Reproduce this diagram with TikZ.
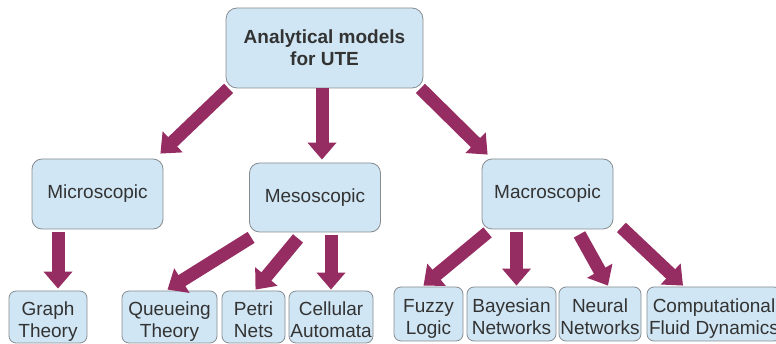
\documentclass[tikz,border=0pt]{standalone}
\usepackage{fontspec}
\setmainfont{Liberation Sans}
\usetikzlibrary{shapes}
\usetikzlibrary{arrows.meta}
\definecolor{boxfill}{RGB}{208,230,244}
\definecolor{boxline}{RGB}{135,140,145}
\definecolor{flowcol}{RGB}{150,45,98}
\definecolor{txtcol}{RGB}{51,51,51}
\tikzset{
	cat/.style = {align=center, inner sep=0pt, text centered, draw=boxline,
		fill=boxfill, text=txtcol, line width=0.8pt,
		font=\fontsize{19}{22}\selectfont},
	cat_root/.style = {cat, rounded corners=11pt, minimum width=197pt,
		minimum height=80pt, font=\fontsize{19}{22}\selectfont\bfseries},% racine
	cat_mid/.style = {cat, rounded corners=10pt, minimum width=131pt,
		minimum height=70pt},% niveau intermediaire
	cat_leaf/.style = {cat, rounded corners=7pt, minimum height=52pt,
		text height=45pt, text depth=4pt},% feuille
	flow/.style = {flowcol, line width=13pt}% grosse fleche
}
\begin{document}
\begin{tikzpicture}[x=1pt,y=-1pt,>={Triangle[length=17pt,width=28pt]}]
	\useasboundingbox (0,0) rectangle (776,344);
	% boites
	\node[cat_root] (root) at (324.5,48) {Analytical models\\for UTE};
	\node[cat_mid] (micro) at (97.5,194) {Microscopic};
	\node[cat_mid, minimum height=69pt] (meso) at (315,197.5) {Mesoscopic};
	\node[cat_mid] (macro) at (547.5,194) {Macroscopic};
	\node[cat_leaf, minimum width=78pt] (graph) at (48,317) {Graph\\Theory};
	\node[cat_leaf, minimum width=95pt] (queue) at (169.5,317) {Queueing\\Theory};
	\node[cat_leaf, minimum width=63pt] (petri) at (253.5,317) {Petri\\Nets};
	\node[cat_leaf, minimum width=84pt] (cell) at (331,317) {Cellular\\Automata};
	\node[cat_leaf, minimum width=69pt, minimum height=54pt] (fuzzy) at (428.5,314) {Fuzzy\\Logic};
	\node[cat_leaf, minimum width=89pt, minimum height=54pt] (bayes) at (511.5,314) {Bayesian\\Networks};
	\node[cat_leaf, minimum width=82pt, minimum height=54pt] (neural) at (600,314) {Neural\\Networks};
	\node[cat_leaf, minimum width=134pt, minimum height=54pt] (cfd) at (714,314) {Computational\\Fluid Dynamics};
	% fleches
	\draw[flow,->] ([xshift=3pt]root.south west) -- ([xshift=-3pt,yshift=5pt]micro.north east);
	\draw[flow,->] ([xshift=-2.5pt]root.south) -- ([xshift=-2.5pt,yshift=3pt]root.south |- meso.north);
	\draw[flow,->] ([xshift=-3pt]root.south east) -- ([xshift=6pt,yshift=4pt]macro.north west);
	\draw[flow,->] ([xshift=10pt,yshift=-3pt]graph.north |- micro.south) -- ([xshift=10pt,yshift=2pt]graph.north);
	\draw[flow,->] ([xshift=2pt,yshift=-5pt]meso.south west) -- ([xshift=-2pt,yshift=1pt]queue.north);
	\draw[flow,->] ([xshift=-17pt,yshift=-6pt]meso.south) -- ([xshift=2pt,yshift=1pt]petri.north);
	\draw[flow,->] ([yshift=-3pt]cell.north |- meso.south) -- ([yshift=1pt]cell.north);
	\draw[flow,->] ([xshift=6pt,yshift=-3pt]macro.south west) -- ([xshift=-5pt,yshift=1pt]fuzzy.north);
	\draw[flow,->] ([xshift=5pt,yshift=-3pt]bayes.north |- macro.south) -- ([xshift=5pt,yshift=1pt]bayes.north);
	\draw[flow,->] ([xshift=32pt,yshift=-5pt]macro.south) -- ([xshift=8pt,yshift=1pt]neural.north);
	\draw[flow,->] ([xshift=8pt,yshift=2pt]macro.south east) -- ([xshift=-31pt,yshift=1pt]cfd.north);
\end{tikzpicture}
\end{document}
